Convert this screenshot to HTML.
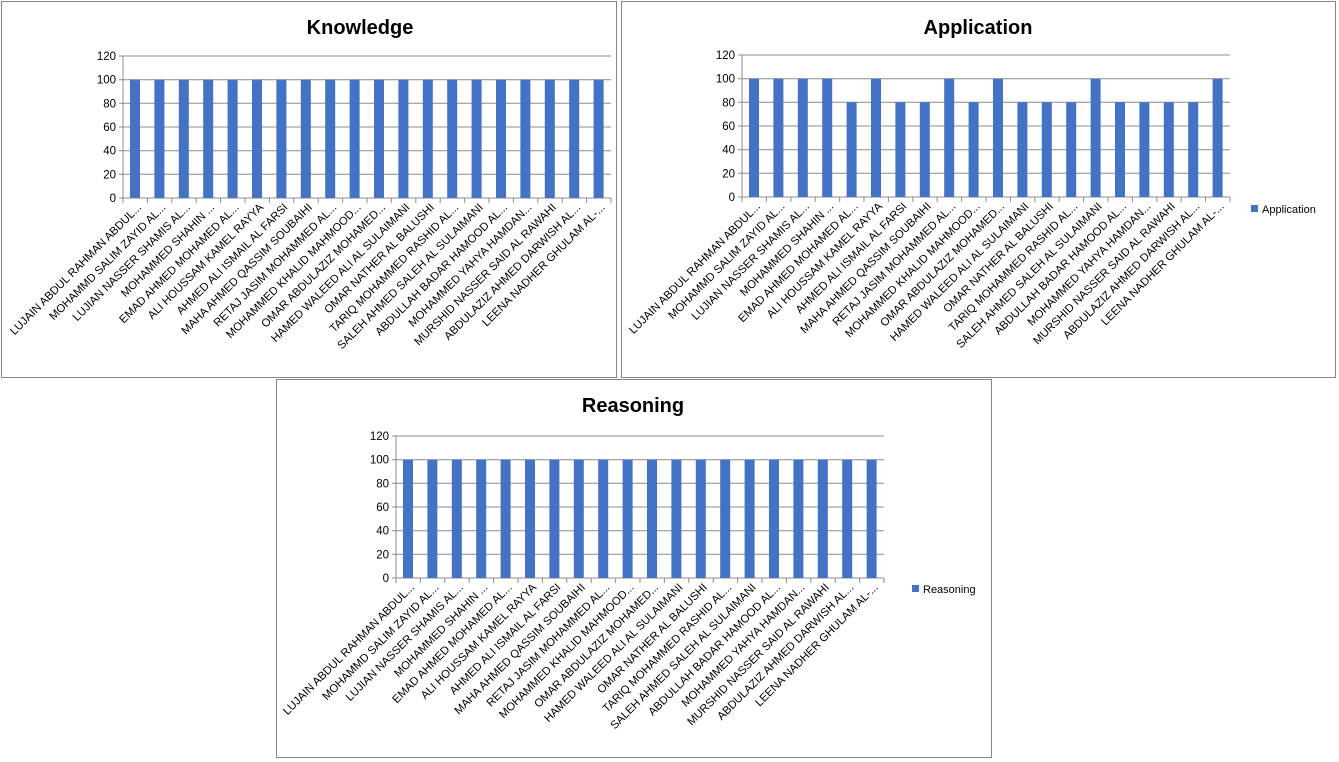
<!DOCTYPE html>
<html><head><meta charset="utf-8"><style>
html,body{margin:0;padding:0;background:#fff}
svg{display:block;font-family:"Liberation Sans",sans-serif}
.g{stroke:#8c8c8c;stroke-width:1}
.yl{font-size:11.5px;text-anchor:end;fill:#000}
.xl text{font-size:11.3px;text-anchor:end;fill:#000}
.t{font-size:20px;font-weight:bold;text-anchor:middle}
</style></head><body>
<svg width="1339" height="762" viewBox="0 0 1339 762">
<defs>
<g id="grid">
<line class="g" x1="0" y1="-142" x2="488" y2="-142"/>
<line class="g" x1="0" y1="-118.3" x2="488" y2="-118.3"/>
<line class="g" x1="0" y1="-94.7" x2="488" y2="-94.7"/>
<line class="g" x1="0" y1="-71" x2="488" y2="-71"/>
<line class="g" x1="0" y1="-47.3" x2="488" y2="-47.3"/>
<line class="g" x1="0" y1="-23.7" x2="488" y2="-23.7"/>
<line class="g" x1="0" y1="-142" x2="0" y2="0"/>
<line class="g" x1="-4" y1="0" x2="488" y2="0"/>
<path class="g" fill="none" d="M0 0v5M24.4 0v5M48.8 0v5M73.2 0v5M97.6 0v5M122 0v5M146.4 0v5M170.8 0v5M195.2 0v5M219.6 0v5M244 0v5M268.4 0v5M292.8 0v5M317.2 0v5M341.6 0v5M366 0v5M390.4 0v5M414.8 0v5M439.2 0v5M463.6 0v5M488 0v5M-4 -23.7h4M-4 -47.3h4M-4 -71h4M-4 -94.7h4M-4 -118.3h4M-4 -142h4"/>
</g>
<g id="full" fill="#4472c4">
<rect x="7" y="-118.3" width="10" height="118.3"/><rect x="31.4" y="-118.3" width="10" height="118.3"/><rect x="55.8" y="-118.3" width="10" height="118.3"/><rect x="80.2" y="-118.3" width="10" height="118.3"/><rect x="104.6" y="-118.3" width="10" height="118.3"/><rect x="129" y="-118.3" width="10" height="118.3"/><rect x="153.4" y="-118.3" width="10" height="118.3"/><rect x="177.8" y="-118.3" width="10" height="118.3"/><rect x="202.2" y="-118.3" width="10" height="118.3"/><rect x="226.6" y="-118.3" width="10" height="118.3"/><rect x="251" y="-118.3" width="10" height="118.3"/><rect x="275.4" y="-118.3" width="10" height="118.3"/><rect x="299.8" y="-118.3" width="10" height="118.3"/><rect x="324.2" y="-118.3" width="10" height="118.3"/><rect x="348.6" y="-118.3" width="10" height="118.3"/><rect x="373" y="-118.3" width="10" height="118.3"/><rect x="397.4" y="-118.3" width="10" height="118.3"/><rect x="421.8" y="-118.3" width="10" height="118.3"/><rect x="446.2" y="-118.3" width="10" height="118.3"/><rect x="470.6" y="-118.3" width="10" height="118.3"/>
</g>
</defs>

<rect x="1.5" y="1.5" width="615" height="376" fill="#fff" stroke="#868686"/>
<rect x="621.5" y="1.5" width="714" height="376" fill="#fff" stroke="#868686"/>
<rect x="276.5" y="379.5" width="715" height="378" fill="#fff" stroke="#868686"/>

<text class="t" x="360" y="34">Knowledge</text>
<text class="t" x="978" y="34">Application</text>
<text class="t" x="633" y="412">Reasoning</text>

<g transform="translate(123,198)">
<use href="#grid"/>
<use href="#full"/>
<g class="yl"><text x="-7" y="4">0</text><text x="-7" y="-19.7">20</text><text x="-7" y="-43.3">40</text><text x="-7" y="-67">60</text><text x="-7" y="-90.7">80</text><text x="-7" y="-114.3">100</text><text x="-7" y="-138">120</text></g>
<g class="xl">
<text transform="translate(19,10) rotate(-45)">LUJAIN ABDUL RAHMAN ABDUL...</text>
<text transform="translate(43.4,10) rotate(-45)">MOHAMMD SALIM ZAYID AL...</text>
<text transform="translate(67.8,10) rotate(-45)">LUJIAN NASSER SHAMIS AL...</text>
<text transform="translate(92.2,10) rotate(-45)">MOHAMMED SHAHIN ...</text>
<text transform="translate(116.6,10) rotate(-45)">EMAD AHMED MOHAMED AL...</text>
<text transform="translate(141,10) rotate(-45)">ALI HOUSSAM KAMEL RAYYA</text>
<text transform="translate(165.4,10) rotate(-45)">AHMED ALI ISMAIL AL FARSI</text>
<text transform="translate(189.8,10) rotate(-45)">MAHA AHMED QASSIM SOUBAIHI</text>
<text transform="translate(214.2,10) rotate(-45)">RETAJ JASIM MOHAMMED AL...</text>
<text transform="translate(238.6,10) rotate(-45)">MOHAMMED KHALID MAHMOOD...</text>
<text transform="translate(263,10) rotate(-45)">OMAR ABDULAZIZ MOHAMED...</text>
<text transform="translate(287.4,10) rotate(-45)">HAMED WALEED ALI AL SULAIMANI</text>
<text transform="translate(311.8,10) rotate(-45)">OMAR NATHER AL BALUSHI</text>
<text transform="translate(336.2,10) rotate(-45)">TARIQ MOHAMMED RASHID AL...</text>
<text transform="translate(360.6,10) rotate(-45)">SALEH AHMED SALEH AL SULAIMANI</text>
<text transform="translate(385,10) rotate(-45)">ABDULLAH BADAR HAMOOD AL...</text>
<text transform="translate(409.4,10) rotate(-45)">MOHAMMED YAHYA HAMDAN...</text>
<text transform="translate(433.8,10) rotate(-45)">MURSHID NASSER SAID AL RAWAHI</text>
<text transform="translate(458.2,10) rotate(-45)">ABDULAZIZ AHMED DARWISH AL...</text>
<text transform="translate(482.6,10) rotate(-45)">LEENA NADHER GHULAM AL-...</text>
</g>
</g>

<g transform="translate(742,197)">
<use href="#grid"/>
<g fill="#4472c4">
<rect x="7" y="-118.3" width="10" height="118.3"/><rect x="31.4" y="-118.3" width="10" height="118.3"/><rect x="55.8" y="-118.3" width="10" height="118.3"/><rect x="80.2" y="-118.3" width="10" height="118.3"/><rect x="104.6" y="-94.7" width="10" height="94.7"/><rect x="129" y="-118.3" width="10" height="118.3"/><rect x="153.4" y="-94.7" width="10" height="94.7"/><rect x="177.8" y="-94.7" width="10" height="94.7"/><rect x="202.2" y="-118.3" width="10" height="118.3"/><rect x="226.6" y="-94.7" width="10" height="94.7"/><rect x="251" y="-118.3" width="10" height="118.3"/><rect x="275.4" y="-94.7" width="10" height="94.7"/><rect x="299.8" y="-94.7" width="10" height="94.7"/><rect x="324.2" y="-94.7" width="10" height="94.7"/><rect x="348.6" y="-118.3" width="10" height="118.3"/><rect x="373" y="-94.7" width="10" height="94.7"/><rect x="397.4" y="-94.7" width="10" height="94.7"/><rect x="421.8" y="-94.7" width="10" height="94.7"/><rect x="446.2" y="-94.7" width="10" height="94.7"/><rect x="470.6" y="-118.3" width="10" height="118.3"/>
</g>
<g class="yl"><text x="-7" y="4">0</text><text x="-7" y="-19.7">20</text><text x="-7" y="-43.3">40</text><text x="-7" y="-67">60</text><text x="-7" y="-90.7">80</text><text x="-7" y="-114.3">100</text><text x="-7" y="-138">120</text></g>
<g class="xl">
<text transform="translate(19,10) rotate(-45)">LUJAIN ABDUL RAHMAN ABDUL...</text>
<text transform="translate(43.4,10) rotate(-45)">MOHAMMD SALIM ZAYID AL...</text>
<text transform="translate(67.8,10) rotate(-45)">LUJIAN NASSER SHAMIS AL...</text>
<text transform="translate(92.2,10) rotate(-45)">MOHAMMED SHAHIN ...</text>
<text transform="translate(116.6,10) rotate(-45)">EMAD AHMED MOHAMED AL...</text>
<text transform="translate(141,10) rotate(-45)">ALI HOUSSAM KAMEL RAYYA</text>
<text transform="translate(165.4,10) rotate(-45)">AHMED ALI ISMAIL AL FARSI</text>
<text transform="translate(189.8,10) rotate(-45)">MAHA AHMED QASSIM SOUBAIHI</text>
<text transform="translate(214.2,10) rotate(-45)">RETAJ JASIM MOHAMMED AL...</text>
<text transform="translate(238.6,10) rotate(-45)">MOHAMMED KHALID MAHMOOD...</text>
<text transform="translate(263,10) rotate(-45)">OMAR ABDULAZIZ MOHAMED...</text>
<text transform="translate(287.4,10) rotate(-45)">HAMED WALEED ALI AL SULAIMANI</text>
<text transform="translate(311.8,10) rotate(-45)">OMAR NATHER AL BALUSHI</text>
<text transform="translate(336.2,10) rotate(-45)">TARIQ MOHAMMED RASHID AL...</text>
<text transform="translate(360.6,10) rotate(-45)">SALEH AHMED SALEH AL SULAIMANI</text>
<text transform="translate(385,10) rotate(-45)">ABDULLAH BADAR HAMOOD AL...</text>
<text transform="translate(409.4,10) rotate(-45)">MOHAMMED YAHYA HAMDAN...</text>
<text transform="translate(433.8,10) rotate(-45)">MURSHID NASSER SAID AL RAWAHI</text>
<text transform="translate(458.2,10) rotate(-45)">ABDULAZIZ AHMED DARWISH AL...</text>
<text transform="translate(482.6,10) rotate(-45)">LEENA NADHER GHULAM AL-...</text>
</g>
</g>
<rect x="1251" y="205" width="7" height="7" fill="#4472c4"/>
<text x="1262" y="213" font-size="11">Application</text>

<g transform="translate(396,578)">
<use href="#grid"/>
<use href="#full"/>
<g class="yl"><text x="-7" y="4">0</text><text x="-7" y="-19.7">20</text><text x="-7" y="-43.3">40</text><text x="-7" y="-67">60</text><text x="-7" y="-90.7">80</text><text x="-7" y="-114.3">100</text><text x="-7" y="-138">120</text></g>
<g class="xl">
<text transform="translate(19,10) rotate(-45)">LUJAIN ABDUL RAHMAN ABDUL...</text>
<text transform="translate(43.4,10) rotate(-45)">MOHAMMD SALIM ZAYID AL...</text>
<text transform="translate(67.8,10) rotate(-45)">LUJIAN NASSER SHAMIS AL...</text>
<text transform="translate(92.2,10) rotate(-45)">MOHAMMED SHAHIN ...</text>
<text transform="translate(116.6,10) rotate(-45)">EMAD AHMED MOHAMED AL...</text>
<text transform="translate(141,10) rotate(-45)">ALI HOUSSAM KAMEL RAYYA</text>
<text transform="translate(165.4,10) rotate(-45)">AHMED ALI ISMAIL AL FARSI</text>
<text transform="translate(189.8,10) rotate(-45)">MAHA AHMED QASSIM SOUBAIHI</text>
<text transform="translate(214.2,10) rotate(-45)">RETAJ JASIM MOHAMMED AL...</text>
<text transform="translate(238.6,10) rotate(-45)">MOHAMMED KHALID MAHMOOD...</text>
<text transform="translate(263,10) rotate(-45)">OMAR ABDULAZIZ MOHAMED...</text>
<text transform="translate(287.4,10) rotate(-45)">HAMED WALEED ALI AL SULAIMANI</text>
<text transform="translate(311.8,10) rotate(-45)">OMAR NATHER AL BALUSHI</text>
<text transform="translate(336.2,10) rotate(-45)">TARIQ MOHAMMED RASHID AL...</text>
<text transform="translate(360.6,10) rotate(-45)">SALEH AHMED SALEH AL SULAIMANI</text>
<text transform="translate(385,10) rotate(-45)">ABDULLAH BADAR HAMOOD AL...</text>
<text transform="translate(409.4,10) rotate(-45)">MOHAMMED YAHYA HAMDAN...</text>
<text transform="translate(433.8,10) rotate(-45)">MURSHID NASSER SAID AL RAWAHI</text>
<text transform="translate(458.2,10) rotate(-45)">ABDULAZIZ AHMED DARWISH AL...</text>
<text transform="translate(482.6,10) rotate(-45)">LEENA NADHER GHULAM AL-...</text>
</g>
</g>
<rect x="912" y="585" width="7" height="7" fill="#4472c4"/>
<text x="923" y="593" font-size="11">Reasoning</text>
</svg>
</body></html>
